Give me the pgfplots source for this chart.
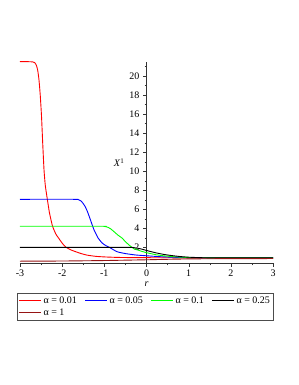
\documentclass[border=0pt]{standalone}
\usepackage{fontspec}
\setmainfont{Liberation Serif}
\usepackage{pgfplots}
\pgfplotsset{compat=1.18}
\definecolor{cred}{RGB}{255,0,0}
\definecolor{cblue}{RGB}{0,0,255}
\definecolor{cgreen}{RGB}{0,255,0}
\definecolor{cdark}{RGB}{150,20,20}
\begin{document}
\begin{tikzpicture}
\path[use as bounding box] (0,0) rectangle (298pt,385pt);
\begin{axis}[
  at={(20pt,121.7pt)}, anchor=south west,
  scale only axis, width=253pt, height=201.6pt,
  xmin=-3, xmax=3, ymin=0.33, ymax=21.5,
  axis x line*=bottom, axis y line*=middle,
  axis line style={-, black!80},
  xtick={-3,-2,-1,0,1,2,3}, minor xtick={-2.5,-1.5,-0.5,0.5,1.5,2.5},
  ytick={2,4,6,8,10,12,14,16,18,20}, minor ytick={1,3,5,7,9,11,13,15,17,19,21},
  tick align=outside,
  major tick length=3.5pt, minor tick length=2pt,
  tick style={black!80},
  /pgf/number format/assume math mode=true,
  tick label style={font=\fontsize{10}{12}\selectfont},
  xlabel={\textit{r}}, ylabel={\textit{X}\raisebox{0.7ex}{\fontsize{7}{8}\selectfont 1}},
  every axis x label/.style={at={(axis description cs:0.5,-0.103)}, anchor=center},
  every axis y label/.style={at={(axis description cs:0.391,0.5)}, anchor=center},
  legend columns=4,
  legend cell align=left,
  legend style={at={(axis description cs:-0.013,-0.147)}, anchor=north west,
    draw=black!70, font=\fontsize{10}{12}\selectfont, inner sep=1.6pt,
    /tikz/every even column/.append style={column sep=5.5pt}},
  legend image code/.code={\draw[#1, line width=1.1pt] (0pt,0pt) -- (22pt,0pt);},
  every axis plot/.append style={line width=0.9pt, smooth, tension=0.3},
]
\addplot[cred] coordinates {
(-3,21.5) (-2.8,21.5) (-2.7,21.48) (-2.65,21.4) (-2.61,21.1) (-2.58,20.6) (-2.55,19.6)
(-2.52,18.0) (-2.49,15.8) (-2.46,12.8) (-2.43,10.1) (-2.40,8.5) (-2.35,7.0) (-2.30,5.6)
(-2.23,4.25) (-2.15,3.4) (-2.08,2.95) (-2.0,2.45) (-1.92,2.05) (-1.8,1.75) (-1.7,1.58)
(-1.55,1.35) (-1.4,1.18) (-1.2,1.06) (-1.0,1.0) (-0.7,0.95) (-0.4,0.93) (0,0.92)
(0.5,0.91) (1,0.9) (2,0.9) (3,0.9)};
\addlegendentry{α = 0.01}
\addplot[cblue] coordinates {
(-3,7.05) (-1.7,7.05) (-1.62,7.02) (-1.56,6.9) (-1.50,6.6) (-1.45,6.25) (-1.40,5.75)
(-1.33,4.9) (-1.25,3.9) (-1.15,3.0) (-1.05,2.45) (-0.95,2.15) (-0.87,1.98) (-0.7,1.55)
(-0.5,1.35) (-0.25,1.2) (0,1.12) (0.3,1.03) (0.6,0.97) (1,0.92) (1.5,0.9) (3,0.9)};
\addlegendentry{α = 0.05}
\addplot[cgreen] coordinates {
(-3,4.22) (-1.1,4.22) (-1.0,4.2) (-0.92,4.12) (-0.85,3.95) (-0.77,3.65) (-0.68,3.3)
(-0.58,2.98) (-0.5,2.6) (-0.4,2.2) (-0.3,1.86) (-0.19,1.7) (-0.1,1.57) (0,1.45)
(0.2,1.25) (0.4,1.12) (0.7,1.0) (1.0,0.94) (1.3,0.91) (2,0.9) (3,0.9)};
\addlegendentry{α = 0.1}
\addplot[black] coordinates {
(-3,2.0) (-0.45,2.0) (-0.3,1.97) (-0.15,1.86) (0,1.68) (0.2,1.45) (0.4,1.27)
(0.6,1.14) (0.8,1.04) (1.0,0.97) (1.3,0.92) (1.6,0.9) (3,0.9)};
\addlegendentry{α = 0.25}
\addplot[cdark] coordinates {
(-3,0.55) (-2,0.57) (-1,0.62) (0,0.7) (0.5,0.75) (1,0.79) (1.5,0.81) (2,0.82) (3,0.83)};
\addlegendentry{α = 1}
\end{axis}
\end{tikzpicture}
\end{document}
